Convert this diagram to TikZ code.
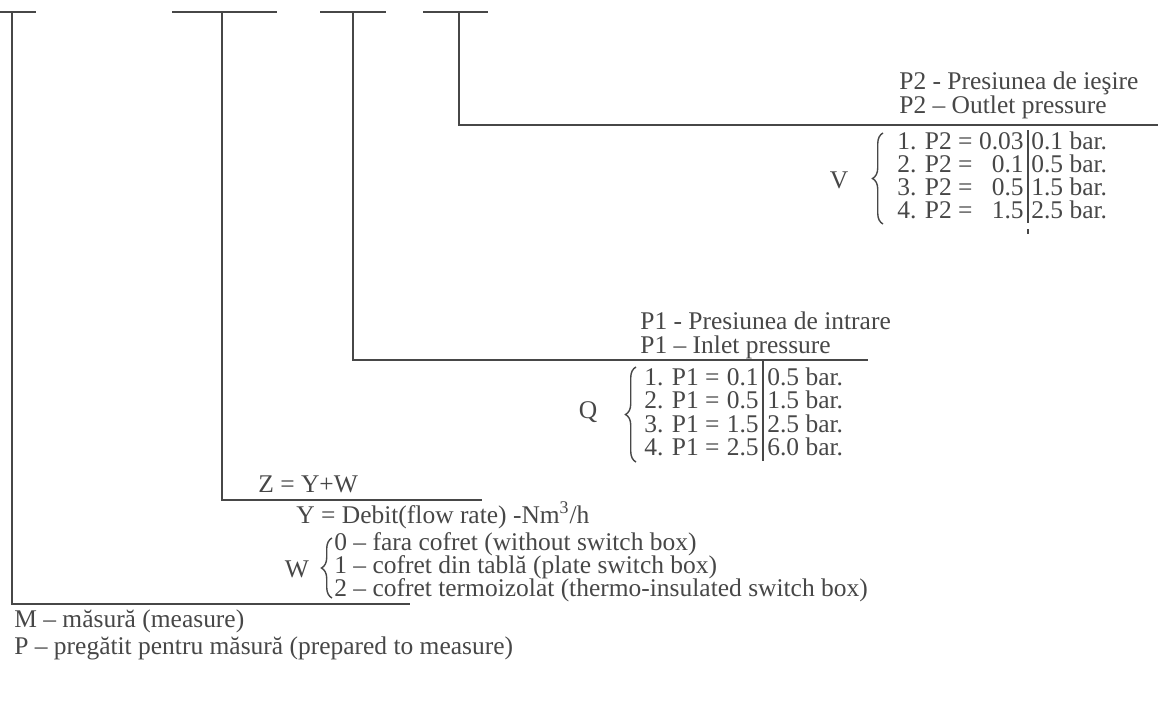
\documentclass[tikz,border=0pt]{standalone}
\usepackage{fontspec}
\setmainfont{Liberation Serif}
\usetikzlibrary{decorations.pathreplacing, positioning}
\definecolor{inkgray}{HTML}{474747}

\begin{document}
\begin{tikzpicture}[x=0.02cm, y=-0.02cm,
    every node/.style={inner sep=0pt, text=inkgray, font=\fontsize{14.5}{17}\selectfont},
    rule/.style={draw=inkgray, line width=1.1pt},
    groupbrace/.style={draw=inkgray, line width=0.8pt, decorate, decoration={brace, amplitude=6pt}}]
    \useasboundingbox (0,0) rectangle (1158,720);

    % Code field marks at the top
    \coordinate (t1) at (12,12);
    \coordinate (t2) at (222,12);
    \coordinate (t3) at (353,12);
    \coordinate (t4) at (459,12);
    \draw[rule] (0,12) -- (36,12);
    \draw[rule] (172,12) -- (277,12);
    \draw[rule] (320,12) -- (386,12);
    \draw[rule] (423,12) -- (488,12);

    % P2 - outlet pressure
    \node[anchor=mid west] (p2ro) at (899,85) {P2 - Presiunea de ieşire};
    \node[anchor=mid west] (p2en) at (899,109) {P2 – Outlet pressure};
    \coordinate (e4) at (1158,125);
    \draw[rule] (t4) |- (e4);
    \foreach \i/\lo/\hi/\yy in {1/0.03/0.1/145, 2/0.1/0.5/168, 3/0.5/1.5/191, 4/1.5/2.5/214} {
        \node[anchor=mid west] (v\i) at (897,\yy) {\i. P2 =};
        \node[anchor=mid east] (vlo\i) at (1024,\yy) {\lo};
        \node[anchor=mid west] (vhi\i) at (1031,\yy) {\hi\ bar.};
    }
    \coordinate (vs1) at (1028,130);
    \coordinate (vs2) at (1028,223);
    \draw[inkgray, line width=0.7pt] (vs1) -- (vs2);
    \draw[inkgray, line width=0.7pt] (1028,229) -- (1028,234);
    \node (vname) at (839,180) {V};
    \draw[groupbrace] (883,224) -- (883,133);

    % P1 - inlet pressure
    \node[anchor=mid west] (p1ro) at (640,325) {P1 - Presiunea de intrare};
    \node[anchor=mid west] (p1en) at (640,349) {P1 – Inlet pressure};
    \coordinate (e3) at (868,360);
    \draw[rule] (t3) |- (e3);
    \foreach \i/\lo/\hi/\yy in {1/0.1/0.5/381, 2/0.5/1.5/404, 3/1.5/2.5/428, 4/2.5/6.0/451} {
        \node[anchor=mid west] (q\i) at (644,\yy) {\i. P1 =};
        \node[anchor=mid east] (qlo\i) at (759,\yy) {\lo};
        \node[anchor=mid west] (qhi\i) at (767,\yy) {\hi\ bar.};
    }
    \coordinate (qs1) at (763,360);
    \coordinate (qs2) at (763,461);
    \draw[inkgray, line width=0.7pt] (qs1) -- (qs2);
    \node (qname) at (588,412) {Q};
    \draw[groupbrace] (636,462) -- (636,367);

    % Z = Y + W
    \node[anchor=mid west] (zsum) at (258,488) {Z = Y+W};
    \coordinate (e2) at (482,500);
    \draw[rule] (t2) |- (e2);
    \node[anchor=mid west] (ydeb) at (296,519) {Y = Debit(flow rate) -Nm\textsuperscript{3}/h};
    \node[anchor=mid west] (w0) at (334,546) {0 – fara cofret (without switch box)};
    \node[anchor=mid west] (w1) at (334,569) {1 – cofret din tablă (plate switch box)};
    \node[anchor=mid west] (w2) at (334,592) {2 – cofret termoizolat (thermo-insulated switch box)};
    \node (wname) at (297,569) {W};
    \draw[groupbrace] (332,598) -- (332,538);

    % M / P
    \coordinate (e1) at (410,604);
    \draw[rule] (t1) |- (e1);
    \node[anchor=mid west] (mmeas) at (14,623) {M – măsură (measure)};
    \node[anchor=mid west] (pprep) at (14,650) {P – pregătit pentru măsură (prepared to measure)};
\end{tikzpicture}
\end{document}
